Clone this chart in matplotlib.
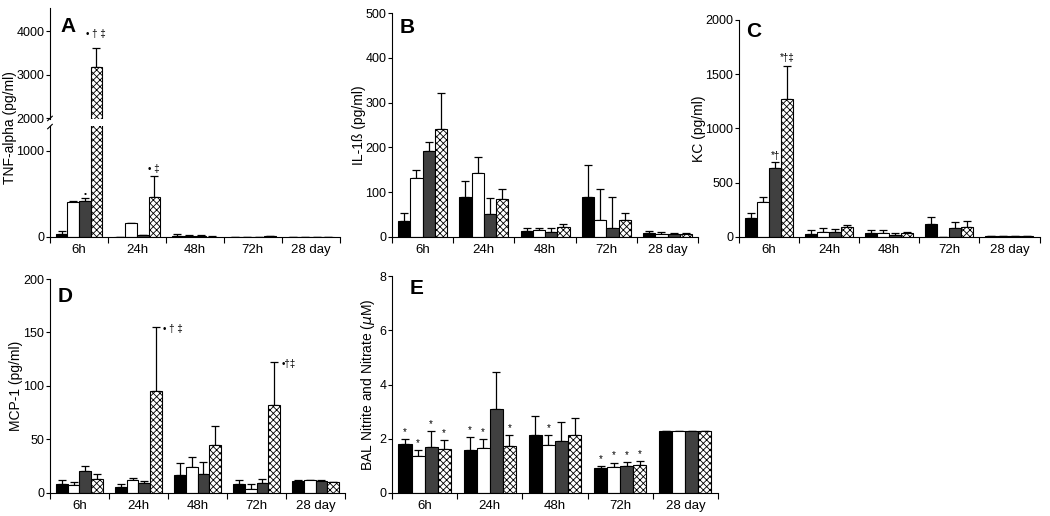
import numpy as np
import matplotlib.pyplot as plt

# time points and group styles
times = ["6h", "24h", "48h", "72h", "28 day"]
fills = ["black", "white", "#404040", "white"]
hatches = [None, None, None, "xxxxx"]

# A: TNF-alpha (pg/ml) means and upper error
tnf_mean = [[40, 5, 15, 2, 2], [410, 160, 10, 2, 2], [420, 20, 15, 2, 2], [3170, 460, 5, 10, 2]]
tnf_err = [[30, 0, 15, 0, 0], [10, 0, 10, 0, 0], [30, 5, 10, 0, 0], [450, 250, 5, 5, 0]]

# B: IL-1b
il1b_mean = [[35, 90, 14, 90, 9], [132, 142, 15, 39, 6], [193, 52, 11, 19, 6], [242, 85, 22, 38, 6]]
il1b_err = [[19, 35, 7, 70, 4], [18, 36, 6, 69, 5], [19, 35, 9, 70, 4], [80, 22, 6, 15, 3]]

# C: KC
kc_mean = [[175, 30, 35, 120, 5], [325, 50, 40, 0, 5], [640, 45, 20, 80, 5], [1275, 95, 35, 95, 10]]
kc_err = [[50, 30, 30, 60, 0], [45, 30, 25, 0, 0], [50, 30, 20, 55, 0], [305, 15, 15, 55, 3]]

# D: MCP-1
mcp_mean = [[8, 6, 17, 8, 11], [7, 12, 24, 4, 12], [21, 9, 18, 9, 11], [13, 95, 45, 82, 10]]
mcp_err = [[4, 2, 11, 4, 1], [3, 2, 10, 4, 0.5], [4, 2, 11, 4, 1], [5, 60, 18, 40, 0.5]]

# E: BAL nitrite and nitrate (uM)
no_mean = [[1.8, 1.57, 2.15, 0.92, 2.3], [1.35, 1.65, 1.78, 0.97, 2.3],
           [1.7, 3.1, 1.93, 1.0, 2.27], [1.63, 1.75, 2.15, 1.05, 2.27]]
no_err = [[0.2, 0.48, 0.7, 0.06, 0], [0.22, 0.35, 0.37, 0.15, 0],
          [0.57, 1.35, 0.67, 0.15, 0], [0.32, 0.4, 0.62, 0.13, 0]]
no_stars = [[1, 1, 0, 1, 0], [1, 1, 1, 1, 0], [1, 0, 0, 1, 0], [1, 1, 0, 1, 0]]

W = 0.2
plt.rcParams['font.family'] = ['Liberation Sans', 'DejaVu Sans']
plt.rcParams['hatch.linewidth'] = 0.6

fig = plt.figure(figsize=(10.5, 5.16), dpi=100)


def setup(ax, ymax, yticks, label, lx=-0.09, xaxis=True):
    ax.spines['top'].set_visible(False)
    ax.spines['right'].set_visible(False)
    ax.set_xlim(0, 5)
    ax.set_ylim(0, ymax)
    ax.set_yticks(yticks)
    ax.tick_params(axis='y', labelsize=9, length=3, width=0.8, pad=1)
    if xaxis:
        ax.set_xticks(np.arange(5) + 0.5)
        ax.set_xticklabels(times, fontsize=9.5)
        ax.tick_params(axis='x', length=0, pad=5)
        ax.set_xticks(np.arange(6), minor=True)
        ax.tick_params(axis='x', which='minor', length=4, width=0.8)
    if label:
        ax.set_ylabel(label, fontsize=10)
        ax.yaxis.set_label_coords(lx, 0.5)


def bars(ax, means, errs):
    x = np.arange(5)
    for i in range(4):
        pos = x + 0.1 + W * i + W / 2
        ax.bar(pos, means[i], W, color=fills[i], edgecolor="black", hatch=hatches[i],
               linewidth=0.8, zorder=2)
        ax.errorbar(pos, means[i], yerr=[np.zeros(5), errs[i]], fmt='none', ecolor='black',
                    elinewidth=0.9, capsize=3, capthick=0.9, zorder=1)


def xpos(g, i):
    return g + 0.1 + W * i + W / 2


def letter(x, y, s):
    fig.text(x / 1050, 1 - y / 516, s, fontsize=15, fontweight='bold')


# Panel A (broken axis)
axA_hi = fig.add_axes([0.0476, 1 - 119 / 516, 0.276, 111 / 516])
axA_lo = fig.add_axes([0.0476, 0.5407, 0.276, 111 / 516])
bars(axA_hi, tnf_mean, tnf_err)
bars(axA_lo, tnf_mean, tnf_err)
setup(axA_lo, 1290, [0, 1000], None)
setup(axA_hi, 4530, [2000, 3000, 4000], None, xaxis=False)
axA_hi.set_ylim(1980, 4530)
axA_hi.set_xticks([])
axA_hi.spines['bottom'].set_visible(False)
fig.text(10 / 1050, 1 - 128 / 516, "TNF-alpha (pg/ml)", rotation=90, fontsize=10,
         va='center', ha='center')
# break marks on the y axis
kw = dict(color='black', lw=0.8, clip_on=False)
axA_hi.plot([-0.008, 0.008], [-0.015, 0.025], transform=axA_hi.transAxes, **kw)
axA_lo.plot([-0.008, 0.008], [0.975, 1.015], transform=axA_lo.transAxes, **kw)
letter(60, 32, "A")
axA_hi.text(xpos(0, 3), 3870, "\u2022 \u2020 \u2021", ha='center', fontsize=7)
axA_lo.text(xpos(0, 2), 480, "\u2022", ha='center', fontsize=6)
axA_lo.text(xpos(1, 3), 760, "\u2022 \u2021", ha='center', fontsize=7)

# Panel B
axB = fig.add_axes([0.3733, 0.5407, 0.2917, 0.434])
bars(axB, il1b_mean, il1b_err)
setup(axB, 500, np.arange(0, 501, 100), "IL-1\u00df (pg/ml)", lx=-0.085)
letter(400, 33, "B")

# Panel C
axC = fig.add_axes([0.7038, 0.5407, 0.2862, 0.4206])
bars(axC, kc_mean, kc_err)
setup(axC, 2000, np.arange(0, 2001, 500), "KC (pg/ml)", lx=-0.11)
letter(746, 37, "C")
axC.text(xpos(0, 2), 720, "*\u2020", ha='center', fontsize=7)
axC.text(xpos(0, 3), 1620, "*\u2020\u2021", ha='center', fontsize=7)

# Panel D
axD = fig.add_axes([0.0476, 0.0446, 0.281, 0.4147])
bars(axD, mcp_mean, mcp_err)
setup(axD, 200, np.arange(0, 201, 50), "MCP-1 (pg/ml)", lx=-0.092)
letter(58, 302, "D")
axD.text(xpos(1, 3) + 0.12, 150, "\u2022 \u2020 \u2021", ha='left', fontsize=7)
axD.text(xpos(3, 3) + 0.12, 118, "\u2022\u2020\u2021", ha='left', fontsize=7)

# Panel E
axE = fig.add_axes([0.3733, 0.0446, 0.3105, 0.4204])
bars(axE, no_mean, no_err)
setup(axE, 8, np.arange(0, 9, 2), "BAL Nitrite and Nitrate ($\\mu$M)", lx=-0.046)
letter(410, 294, "E")
for i in range(4):
    for g in range(5):
        if no_stars[i][g]:
            axE.text(xpos(g, i), no_mean[i][g] + no_err[i][g] + 0.15, "*", ha='center', fontsize=7)

plt.savefig("out.png", dpi=100)
